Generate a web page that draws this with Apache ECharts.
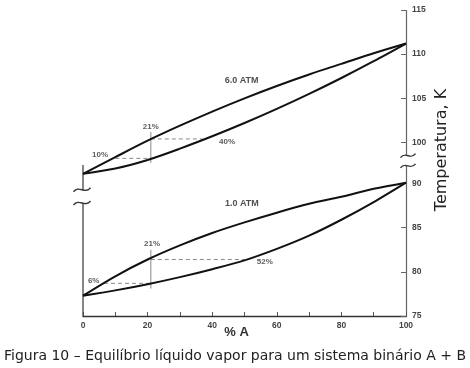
<!DOCTYPE html>
<html><head><meta charset="utf-8">
<script src="https://cdn.jsdelivr.net/npm/echarts@6/dist/echarts.min.js"></script>
<style>html,body{margin:0;padding:0;background:#fff}#c{width:470px;height:368px}</style>
</head><body><div id="c"></div>
<script>
// composition (% A)
const xPct = [0, 10, 20, 30, 40, 50, 60, 70, 80, 90, 100];
// temperatures (K)
const vapor6 = [91.1, 97.6, 100.2, 101.9, 103.5, 105.0, 106.4, 107.7, 108.9, 110.1, 111.2];
const liquid6 = [91.1, 91.7, 95.8, 99.3, 100.7, 102.2, 103.8, 105.5, 107.3, 109.2, 111.2];
const vapor1 = [77.3, 79.5, 81.4, 83.0, 84.4, 85.6, 86.7, 87.7, 88.5, 89.4, 90.1];
const liquid1 = [77.3, 77.9, 78.6, 79.4, 80.3, 81.3, 82.6, 84.1, 85.9, 87.9, 90.1];
// tie lines [xFrom, xTo, T]
const tieLines = [[10, 21, 96.8], [21, 37, 100.4], [6.5, 21, 78.7], [21, 50, 81.4]];
// vertical guides [x, Tfrom, Tto]
const vertLines = [[21, 94.0, 101.2], [21, 78.1, 82.5]];
// annotations [x, T, text]
const pctNotes = [[5.3, 98.6, '10%'], [21.0, 101.75, '21%'], [44.6, 100.1, '40%'],
                  [3.3, 78.96, '6%'], [21.4, 83.2, '21%'], [56.3, 81.1, '52%']];
const atmNotes = [[49.1, 107.0, '6.0 ATM'], [49.2, 87.7, '1.0 ATM']];
const xTickLabels = [0, 20, 40, 60, 80, 100];
const yTickLabels = [75, 80, 85, 90, 100, 105, 110, 115];
const yBreak = [92, 98.5];
const leftAxisSegs = [[75, 87.8], [89.3, 92.5]];

const zip = (xs, ys) => xs.map((x, i) => [x, ys[i]]);
const curve = (name, ys) => ({
  name, type: 'line', data: zip(xPct, ys), smooth: 0.3, symbol: 'none',
  lineStyle: { color: '#111', width: 2 }, z: 5, silent: true
});
const series = [
  curve('vapor6', vapor6), curve('liquid6', liquid6),
  curve('vapor1', vapor1), curve('liquid1', liquid1)
];
tieLines.forEach(t => series.push({
  type: 'line', data: [[t[0], t[2]], [t[1], t[2]]], symbol: 'none', silent: true,
  lineStyle: { color: '#8a8a8a', width: 1, type: [4, 3] }
}));
vertLines.forEach(v => series.push({
  type: 'line', data: [[v[0], v[1]], [v[0], v[2]]], symbol: 'none', silent: true,
  lineStyle: { color: '#888', width: 1 }
}));
// left axis line (with break)
const leftData = [];
leftAxisSegs.forEach((s, i) => { if (i) leftData.push([0, '-']); leftData.push([0, s[0]], [0, s[1]]); });
series.push({ type: 'line', data: leftData, symbol: 'none', silent: true, connectNulls: false,
  lineStyle: { color: '#444', width: 1.3 } });
series.push({
  type: 'scatter', symbolSize: 0, silent: true,
  data: pctNotes.map(n => ({ value: [n[0], n[1]], name: n[2] })),
  label: { show: true, position: 'inside', formatter: p => p.name, color: '#333',
    fontSize: 8, fontWeight: 'bold', fontFamily: 'Liberation Sans' }
});
series.push({
  type: 'scatter', symbolSize: 0, silent: true,
  data: atmNotes.map(n => ({ value: [n[0], n[1]], name: n[2] })),
  label: { show: true, position: 'inside', formatter: p => p.name, color: '#222',
    fontSize: 9, fontWeight: 'bold', fontFamily: 'Liberation Sans' }
});

const chart = echarts.init(document.getElementById('c'));
chart.setOption({
  animation: false,
  backgroundColor: '#fff',
  title: { text: 'Figura 10 – Equilíbrio líquido vapor para um sistema binário A + B',
    left: 'center', bottom: 5, padding: 0,
    textStyle: { fontSize: 14, fontWeight: 'normal', color: '#222', fontFamily: 'DejaVu Sans' } },
  grid: { left: 83, right: 64, top: 10, bottom: 52, containLabel: false, outerBoundsMode: 'none' },
  xAxis: {
    type: 'value', min: 0, max: 100, interval: 10,
    axisLine: { onZero: false, lineStyle: { color: '#333', width: 1.3 } },
    axisTick: { inside: true, length: 4, lineStyle: { color: '#555' } },
    axisLabel: { formatter: v => xTickLabels.includes(v) ? String(v) : '', fontSize: 8.5,
      fontWeight: 'bold', color: '#444', margin: 5, fontFamily: 'Liberation Sans' },
    splitLine: { show: false },
    name: '% A', nameLocation: 'middle', nameGap: 10, nameMoveOverlap: false,
    nameTextStyle: { fontSize: 13, fontWeight: 'bold', color: '#333', padding: [0, 16, 0, 0], fontFamily: 'Liberation Sans' }
  },
  yAxis: {
    type: 'value', position: 'right', min: 75, max: 115, interval: 5,
    breaks: [{ start: yBreak[0], end: yBreak[1], gap: 1.15 }],
    breakArea: { show: false },
    axisLine: { show: true, onZero: false, lineStyle: { color: '#666', width: 1.2 } },
    axisTick: { show: true, inside: true, length: 5, customValues: yTickLabels, lineStyle: { color: '#666' } },
    axisLabel: { customValues: yTickLabels, hideOverlap: false, fontSize: 8.5,
      fontWeight: 'bold', color: '#444', margin: 6, fontFamily: 'Liberation Sans' },
    splitLine: { show: false },
    name: 'Temperatura, K', nameLocation: 'middle', nameRotate: 90, nameGap: 28, nameMoveOverlap: false,
    nameTextStyle: { fontSize: 16, color: '#222', fontFamily: 'DejaVu Sans', padding: [0, 0, 0, 26] }
  },
  series
});

// axis break symbols (decoration)
function tilde(p, w) {
  const h = w / 2;
  return { type: 'bezierCurve', silent: true, z: 100,
    shape: { x1: p[0] - h, y1: p[1] + 2, cpx1: p[0] - h / 3, cpy1: p[1] - 5, cpx2: p[0] + h / 3, cpy2: p[1] + 5, x2: p[0] + h, y2: p[1] - 2 },
    style: { stroke: '#333', lineWidth: 1.4, fill: null } };
}
const pr1 = chart.convertToPixel({ gridIndex: 0 }, [100, yBreak[1]]);
const pr2 = chart.convertToPixel({ gridIndex: 0 }, [100, yBreak[0]]);
const pl1 = chart.convertToPixel({ gridIndex: 0 }, [0, leftAxisSegs[1][0]]);
const pl2 = chart.convertToPixel({ gridIndex: 0 }, [0, leftAxisSegs[0][1]]);
chart.setOption({ graphic: [
  { type: 'rect', silent: true, z: 99, shape: { x: pr1[0] - 3, y: pr1[1], width: 6, height: pr2[1] - pr1[1] }, style: { fill: '#fff' } },
  tilde([pr1[0] + 2, pr1[1]], 15), tilde([pr2[0] + 2, pr2[1]], 15),
  tilde([pl1[0] - 1, pl1[1]], 17), tilde([pl2[0] - 1, pl2[1]], 17)
] });
</script></body></html>
